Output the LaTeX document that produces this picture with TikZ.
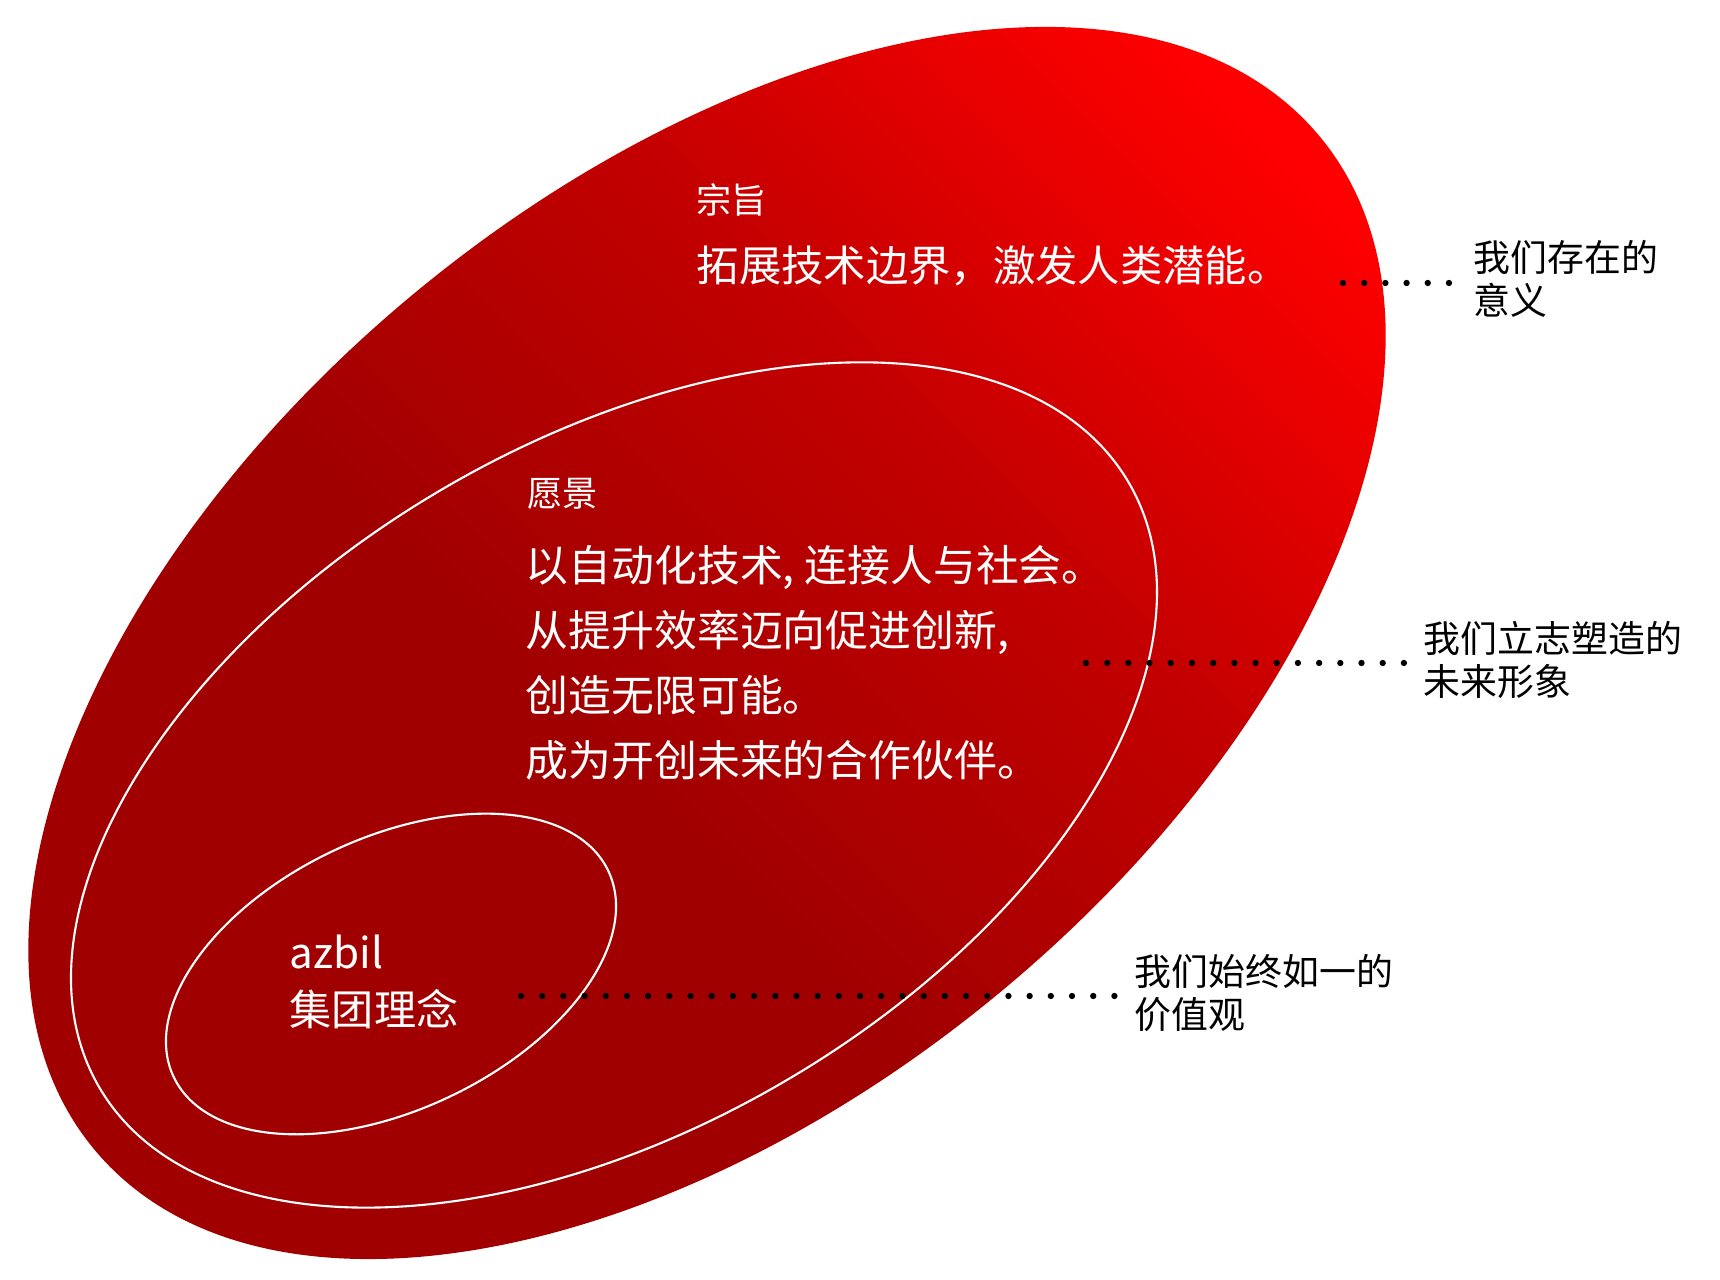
\documentclass[tikz,border=0pt]{standalone}
\usepackage{fontspec}
\setmainfont{Noto Sans CJK SC}
\usetikzlibrary{positioning,calc}

\definecolor{azdark}{HTML}{A00000}
\definecolor{azlow}{HTML}{AC0000}
\definecolor{azmid}{HTML}{C30000}
\definecolor{azhigh}{HTML}{EE0000}
\definecolor{azbright}{HTML}{FF0000}
% the middle 25bp--75bp of a shading is what covers the path
\pgfdeclarehorizontalshading{azfade}{100bp}{color(0bp)=(azdark); color(45bp)=(azdark);
    color(50bp)=(azlow); color(59.5bp)=(azmid); color(69.75bp)=(azhigh); color(74bp)=(azbright);
    color(100bp)=(azbright)}

\tikzset{
    ovals/.style={
        % white texts inside the ovals
        heading/.style={anchor=west, inner sep=0pt, text=white,
                        font=\fontsize{10pt}{11pt}\selectfont},
        statement/.style={anchor=west, inner sep=0pt, text=white, align=left,
                          font=\fontsize{12.2pt}{18.5pt}\selectfont},
        % black notes on the right
        note/.style={anchor=west, inner sep=0pt, align=left,
                     font=\fontsize{10.5pt}{12pt}\selectfont},
        ring/.style={draw=white, line width=0.6pt},
        dots/.style={line width=1.8pt, line cap=round,
                     dash pattern=on 0pt off 6.03pt, shorten >=0.17cm}
    }
}

\begin{document}
\begin{tikzpicture}[ovals]
    \useasboundingbox (0,0) rectangle (17.2,12.8);
    % outer oval, shaded along the diagonal
    \begin{scope}
        \clip[rotate around={39.5:(7.07,6.37)}] (7.07,6.37) ellipse [x radius=7.95, y radius=4.56];
        \shade[shading=azfade, transform canvas={rotate around={45:(7.07,6.37)}}]
            (-0.86,1.4) rectangle (15.0,11.3);
    \end{scope}
    \draw[ring, rotate around={30.5:(6.14,4.95)}]
        (6.14,4.95) ellipse [x radius=5.97, y radius=3.42];
    \draw[ring, rotate around={25.35:(3.91,3.06)}]
        (3.91,3.06) ellipse [x radius=2.405, y radius=1.36];

    \node[heading] (purposetitle) at (6.96,10.80) {宗旨};
    \node[statement, font=\fontsize{12.05pt}{14pt}\selectfont] (purpose) at (6.96,10.14) {拓展技术边界，激发人类潜能。};
    \node[heading] (visiontitle) at (5.27,7.86) {愿景};
    \node[statement, anchor=north west] (vision) at (5.25,7.35)
        {以自动化技术, 连接人与社会。\\从提升效率迈向促进创新,\\创造无限可能。\\成为开创未来的合作伙伴。};
    \node[statement, anchor=north west, font=\fontsize{12pt}{16.2pt}\selectfont] (philosophy) at (2.89,3.46)
        {azbil\\集团理念};

    \node[note] (why) at (14.73,10.01) {我们存在的\\意义};
    \node[note] (future) at (14.23,6.20) {我们立志塑造的\\未来形象};
    \node[note] (values) at (11.34,2.87) {我们始终如一的\\价值观};

    \coordinate (whystart) at (13.43,9.97);
    \coordinate (futurestart) at (10.86,6.17);
    \coordinate (valuesstart) at (5.21,2.84);
    \draw[dots] (whystart) -- (whystart -| why.west);
    \draw[dots] (futurestart) -- (futurestart -| future.west);
    \draw[dots] (valuesstart) -- (valuesstart -| values.west);
\end{tikzpicture}
\end{document}
